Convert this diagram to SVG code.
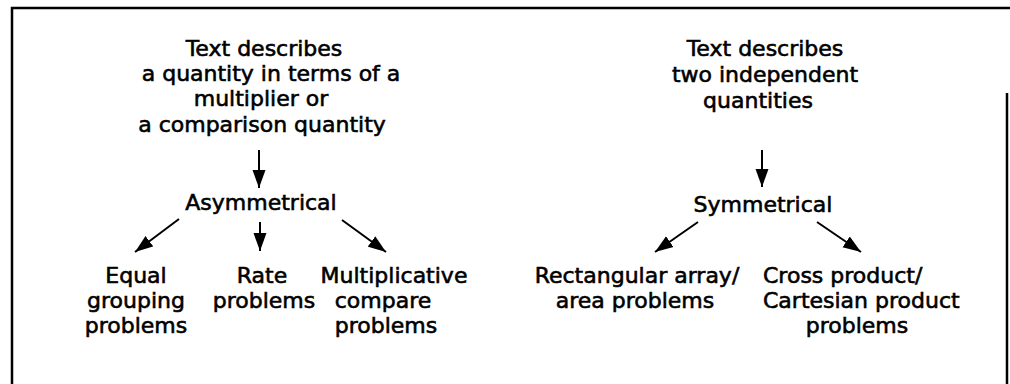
<svg xmlns="http://www.w3.org/2000/svg" width="1010" height="384" viewBox="0 0 1010 384">
<style>
text{font-family:"DejaVu Sans","Liberation Sans",sans-serif;font-size:22px;fill:#000;stroke:#000;stroke-width:0.6;text-anchor:middle}
.s{text-anchor:start}
.frame{fill:none;stroke:#000;stroke-width:2.5}
.c{stroke:#000;stroke-width:2;fill:none;marker-end:url(#ah)}
</style>
<defs>
<marker id="ah" markerUnits="userSpaceOnUse" markerWidth="19" markerHeight="14" refX="18" refY="7" orient="auto">
<path d="M0,0.5 L18,7 L0,13.5 Z" fill="#000"/>
</marker>
</defs>
<rect width="1010" height="384" fill="#fff"/>
<path class="frame" d="M12,384 L12,8 L1010,8 M1007,93 L1007,384"/>
<g id="n-multiplier">
<text x="264" y="56">Text describes</text>
<text x="271" y="81">a quantity in terms of a</text>
<text x="261" y="106">multiplier or</text>
<text x="262" y="132">a comparison quantity</text>
</g>
<g id="n-asym"><text x="261" y="210">Asymmetrical</text></g>
<g id="n-equal">
<text x="136" y="283">Equal</text>
<text x="136" y="308">grouping</text>
<text x="136" y="333">problems</text>
</g>
<g id="n-rate">
<text x="262" y="283">Rate</text>
<text x="264" y="308">problems</text>
</g>
<g id="n-mult">
<text x="394" y="283">Multiplicative</text>
<text x="383" y="308">compare</text>
<text x="386" y="333">problems</text>
</g>
<g id="n-indep">
<text x="765" y="56">Text describes</text>
<text x="765" y="82">two independent</text>
<text x="758" y="108">quantities</text>
</g>
<g id="n-sym"><text x="763" y="212">Symmetrical</text></g>
<g id="n-rect">
<text x="637" y="283">Rectangular array/</text>
<text x="635" y="308">area problems</text>
</g>
<g id="n-cross">
<text class="s" x="763" y="283">Cross product/</text>
<text class="s" x="763" y="308">Cartesian product</text>
<text x="857" y="333">problems</text>
</g>
<g id="connectors">
<line class="c" x1="259" y1="150" x2="259" y2="188"/>
<line class="c" x1="179" y1="219" x2="135" y2="252"/>
<line class="c" x1="260" y1="222" x2="260" y2="251"/>
<line class="c" x1="342" y1="220" x2="386" y2="252"/>
<line class="c" x1="762" y1="150" x2="762" y2="187"/>
<line class="c" x1="698" y1="222" x2="655" y2="252"/>
<line class="c" x1="817" y1="222" x2="861" y2="252"/>
</g>
</svg>
